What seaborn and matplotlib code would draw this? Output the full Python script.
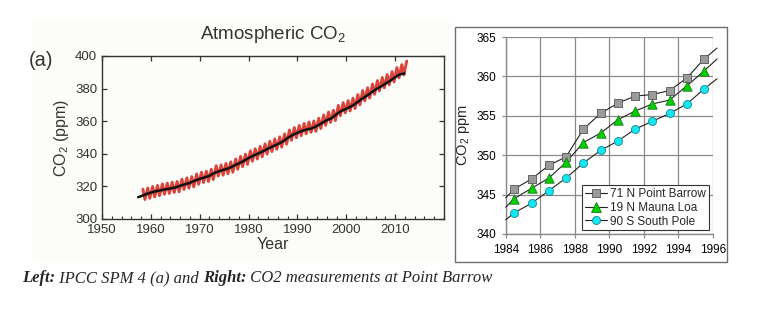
import numpy as np
import pandas as pd
import matplotlib
matplotlib.use("Agg")
import matplotlib.pyplot as plt
from matplotlib.lines import Line2D
from matplotlib.patches import Rectangle
import seaborn as sns

# ---------------- data: left panel (Atmospheric CO2) ----------------
red_years = list(range(1958, 2013))
red_peaks = [318.3, 319.0, 319.9, 320.6, 321.5, 322.0, 322.6, 323.0, 324.4, 325.2,
             326.0, 327.6, 328.7, 329.3, 330.5, 332.7, 333.2, 334.1, 335.0, 336.8,
             338.4, 339.8, 341.8, 343.1, 344.5, 346.1, 347.7, 349.1, 350.4, 352.2,
             354.6, 356.1, 357.4, 358.6, 359.5, 360.1, 361.8, 363.8, 365.6, 366.7,
             369.7, 371.4, 372.6, 374.1, 376.3, 378.8, 380.5, 382.8, 384.9, 386.8,
             388.6, 390.4, 392.9, 394.7, 396.9]
red_troughs = [312.0, 312.7, 313.6, 314.3, 315.2, 315.7, 316.3, 316.7, 318.1, 318.9,
               319.7, 321.3, 322.4, 323.0, 324.2, 326.4, 326.9, 327.8, 328.7, 330.5,
               332.1, 333.5, 335.5, 336.8, 338.2, 339.8, 341.4, 342.8, 344.1, 345.9,
               348.3, 349.8, 351.1, 352.3, 353.2, 353.8, 355.5, 357.5, 359.3, 360.4,
               363.4, 365.1, 366.3, 367.8, 370.0, 372.5, 374.2, 376.5, 378.6, 380.5,
               382.3, 384.1, 386.6, 388.4]

black_years = [1957.4, 1958, 1959, 1960, 1961, 1962, 1963, 1964, 1965, 1966, 1967,
               1968, 1969, 1970, 1971, 1972, 1973, 1974, 1975, 1976, 1977, 1978,
               1979, 1980, 1981, 1982, 1983, 1984, 1985, 1986, 1987, 1988, 1989,
               1990, 1991, 1992, 1993, 1994, 1995, 1996, 1997, 1998, 1999, 2000,
               2001, 2002, 2003, 2004, 2005, 2006, 2007, 2008, 2009, 2010, 2011, 2011.9]
black_vals = [313.4, 314.0, 315.2, 316.2, 317.0, 317.6, 318.2, 318.7, 319.3, 320.4,
              321.3, 322.2, 323.5, 324.6, 325.5, 326.5, 328.3, 329.3, 330.3, 331.2,
              332.7, 334.1, 335.6, 337.4, 338.9, 340.2, 341.6, 343.2, 344.6, 346.0,
              347.5, 349.7, 351.5, 352.9, 354.1, 355.0, 355.6, 357.1, 358.8, 360.6,
              361.8, 364.3, 366.3, 367.6, 369.1, 371.0, 373.3, 375.2, 377.3, 379.4,
              381.1, 383.0, 384.8, 387.0, 388.8, 389.3]

left_xticks = [1950, 1960, 1970, 1980, 1990, 2000, 2010]
left_yticks = [300, 320, 340, 360, 380, 400]

# ---------------- data: right panel (stations) ----------------
station_years = [1984.5, 1985.5, 1986.5, 1987.5, 1988.5, 1989.5,
                 1990.5, 1991.5, 1992.5, 1993.5, 1994.5, 1995.5]
barrow = [345.7, 347.0, 348.7, 349.8, 353.3, 355.3, 356.6, 357.5, 357.7, 358.2, 359.8, 362.2]
mauna_loa = [344.5, 345.8, 347.1, 349.1, 351.6, 352.8, 354.5, 355.6, 356.5, 357.0, 358.8, 360.7]
south_pole = [342.7, 343.9, 345.5, 347.1, 349.0, 350.6, 351.8, 353.3, 354.3, 355.3, 356.5, 358.4]
line_ends_x = [1984.0, 1996.25]
barrow_ends = [344.6, 363.6]
mauna_ends = [343.4, 362.2]
pole_ends = [341.8, 359.7]
station_names = ["71 N Point Barrow", "19 N Mauna Loa", "90 S South Pole"]
right_xticks = [1984, 1986, 1988, 1990, 1992, 1994, 1996]
right_yticks = [340, 345, 350, 355, 360, 365]

# ---------------- style ----------------
sns.set_style("ticks")
plt.rcParams['font.family'] = ['Liberation Sans', 'DejaVu Sans']
plt.rcParams['mathtext.default'] = 'regular'

W, H = 764, 321
fig = plt.figure(figsize=(W / 100, H / 100), dpi=100)
fig.patch.set_facecolor("white")

def fx(px):
    return px / W

def fy(py):
    return 1 - py / H

CREAM = "#fcfcf8"
# faint cream background of the left image
fig.add_artist(Rectangle((fx(33), fy(262)), fx(450) - fx(33), fy(20) - fy(262),
                         transform=fig.transFigure, facecolor=CREAM,
                         edgecolor="none", zorder=0))

# ---------------- left panel ----------------
axL = fig.add_axes([fx(102), fy(219), fx(444) - fx(102), fy(56) - fy(219)])
axL.set_facecolor(CREAM)

# zigzag seasonal red series: peak (May) then trough (Oct) each year
rx, ry = [], []
for i, yr in enumerate(red_years):
    rx.append(yr + 0.37)
    ry.append(red_peaks[i])
    if i < len(red_troughs):
        rx.append(yr + 0.78)
        ry.append(red_troughs[i])
red_df = pd.DataFrame({"Year": rx, "CO2": ry})
black_df = pd.DataFrame({"Year": black_years, "CO2": black_vals})

sns.lineplot(data=red_df, x="Year", y="CO2", ax=axL, color="#d9453d",
             lw=2.1, sort=False, legend=False, zorder=2)
sns.lineplot(data=black_df, x="Year", y="CO2", ax=axL, color="#111111",
             lw=1.8, sort=False, legend=False, zorder=3)

axL.set_xlim(1950, 2020)
axL.set_ylim(300, 400)
axL.set_xticks(left_xticks)
axL.set_xticks(np.arange(1950, 2021, 2), minor=True)
axL.set_yticks(left_yticks)
axL.set_xticklabels([str(t) for t in left_xticks])
axL.tick_params(axis="both", which="both", direction="in", top=True, right=True,
                labelsize=9.5, colors="#333333", labelcolor="#333333")
axL.tick_params(axis="x", which="minor", top=False)
axL.tick_params(which="major", length=3.5, width=0.9)
axL.tick_params(which="minor", length=2.2, width=0.8)
for s in axL.spines.values():
    s.set_color("#333333")
    s.set_linewidth(1.0)
axL.set_xlabel("Year", fontsize=11.5, color="#333333", labelpad=1)
axL.set_ylabel("CO$_2$ (ppm)", fontsize=11.5, color="#333333", labelpad=3)
axL.set_title("Atmospheric CO$_2$", fontsize=13.5, color="#333333", pad=12)
fig.text(fx(29), fy(66), "(a)", fontsize=14.5, color="#333333", ha="left", va="baseline")

# ---------------- right panel ----------------
fig.add_artist(Rectangle((fx(455), fy(262)), fx(727) - fx(455), fy(27) - fy(262),
                         transform=fig.transFigure, facecolor="white",
                         edgecolor="#6e6e6e", lw=1.0, zorder=0))
axR = fig.add_axes([fx(505.7), fy(234), fx(712.7) - fx(505.7), fy(37) - fy(234)])
axR.set_facecolor("white")
axR.set_xlim(1984, 1996)
axR.set_ylim(340, 365)
axR.set_xticks(right_xticks)
axR.set_yticks(right_yticks)
axR.grid(True, color="#8a8a8a", lw=0.9)
axR.set_axisbelow(True)
for side in ["top", "right"]:
    axR.spines[side].set_visible(False)
for side in ["left", "bottom"]:
    axR.spines[side].set_color("#8a8a8a")
    axR.spines[side].set_linewidth(1.0)
axR.tick_params(direction="out", length=3, width=0.9, colors="#8a8a8a",
                labelcolor="black", labelsize=8.5, pad=4)

specs = [
    (barrow, barrow_ends, "s", "#9a9a9a", "#555555", 40),
    (mauna_loa, mauna_ends, "^", "#00d000", "#1b7a1b", 46),
    (south_pole, pole_ends, "o", "#12e6f0", "#1a8a90", 34),
]
handles = []
for (vals, ends, mk, fc, ec, sz), name in zip(specs, station_names):
    lx = [line_ends_x[0]] + station_years + [line_ends_x[1]]
    ly = [ends[0]] + vals + [ends[1]]
    sns.lineplot(x=lx, y=ly, ax=axR, color="#222222", lw=0.8, sort=False,
                 legend=False, clip_on=False, zorder=3)
    sns.scatterplot(x=station_years, y=vals, ax=axR, marker=mk, s=sz, color=fc,
                    edgecolor=ec, linewidth=0.6, legend=False, zorder=4)
    handles.append(Line2D([], [], color="#222222", lw=0.8, marker=mk,
                          markersize=np.sqrt(sz), markerfacecolor=fc,
                          markeredgecolor=ec, markeredgewidth=0.6))

leg = axR.legend(handles, station_names, loc="lower right", fontsize=8.5,
                 frameon=True, fancybox=False, framealpha=1, edgecolor="#333333",
                 handlelength=1.9, handletextpad=0.25, borderpad=0.25,
                 labelspacing=0.15, borderaxespad=0.3)
leg.get_frame().set_linewidth(0.8)
axR.set_ylabel("CO$_2$ ppm", fontsize=10.5, labelpad=3)

# ---------------- caption ----------------
cap_fs = 12
t1 = fig.text(fx(22), fy(286), "Left:", fontsize=cap_fs, family="Liberation Serif",
              style="italic", weight="bold", ha="left", va="bottom")
pieces = [(" IPCC SPM 4 (a) and ", "normal"), ("Right:", "bold"),
          (" CO2 measurements at Point Barrow", "normal")]
prev = t1
for txt, wt in pieces:
    prev = axL.annotate(txt, xy=(1, 0), xycoords=prev, xytext=(0, 0),
                        textcoords="offset points", fontsize=cap_fs,
                        family="Liberation Serif", style="italic", weight=wt,
                        ha="left", va="bottom", annotation_clip=False)

fig.savefig("out.png", dpi=100, facecolor="white")
